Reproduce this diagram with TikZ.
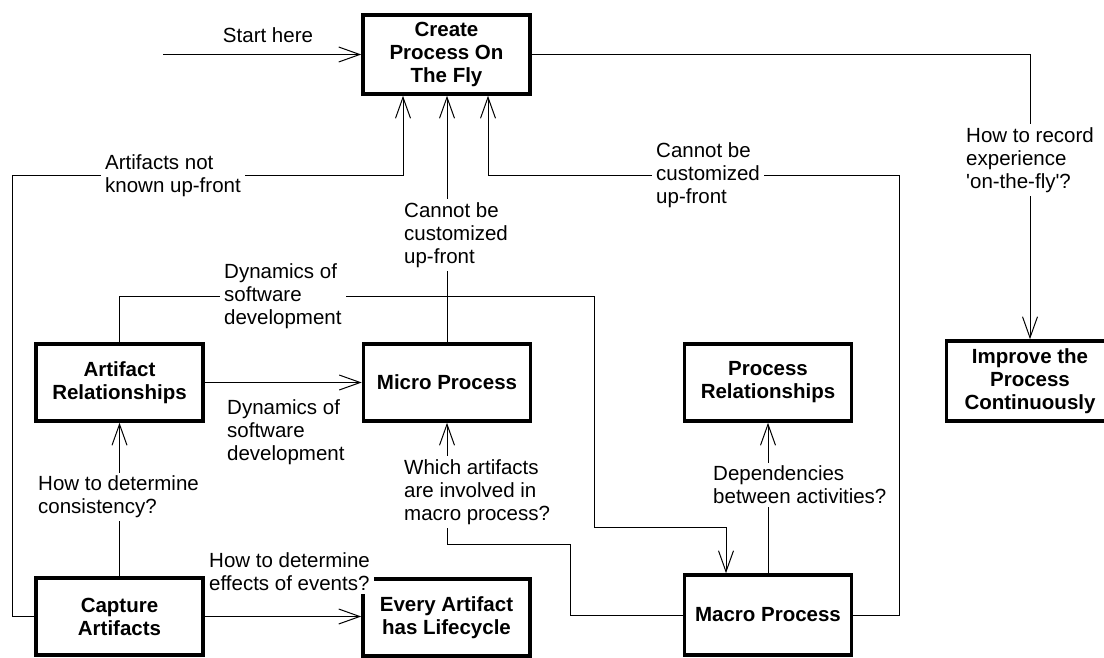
\documentclass[tikz,border=0pt]{standalone}
\usepackage{fontspec}
\setmainfont{Liberation Sans}
\usetikzlibrary{arrows.meta}

\tikzset{
  proc/.style={draw, line width=3.6pt, fill=white, align=center,
    font=\bfseries\fontsize{20.5}{23}\selectfont,
    minimum width=167pt, minimum height=77pt, inner sep=0pt},
  lbl/.style={align=left, anchor=west, fill=white,
    font=\fontsize{20.5}{23}\selectfont, inner xsep=4pt, inner ysep=3pt},
  conn/.style={line width=1pt, -{Straight Barb[length=21pt,width=15pt]}},
}

\begin{document}
\begin{tikzpicture}[x=1pt,y=-1pt]
  \useasboundingbox (0,0) rectangle (1104,658);

  % boxes
  \node[proc, minimum height=79pt] (create) at (446.5,54.5) {Create\\Process On\\The Fly};
  \node[proc] (artrel) at (119.5,382.5) {Artifact\\Relationships};
  \node[proc] (micro) at (447,382.5) {Micro Process};
  \node[proc] (procrel) at (768,382.5) {Process\\Relationships};
  \node[proc, minimum height=80pt] (improve) at (1030,381) {Improve the\\Process\\Continuously};
  \node[proc] (capture) at (119.5,616.5) {Capture\\Artifacts};
  \node[proc] (every) at (446.5,617.5) {Every Artifact\\has Lifecycle};
  \node[proc, minimum height=80pt] (macro) at (768,615) {Macro Process};

  % bends
  \coordinate (start) at (163,54.5);
  \coordinate (lk) at (12,176);
  \coordinate (rk) at (899,176);
  \coordinate (d1) at (594,296);
  \coordinate (d2) at (726,527);
  \coordinate (w1) at (570,544);

  % connectors
  \draw[conn] (start) -- (create.west);
  \draw[conn] (create.east) -| (improve.north);
  \draw[conn] (capture.west) -| (lk) -| ([xshift=-43.5pt]create.south);
  \draw[conn] (micro.north) -- (micro.north |- create.south);
  \draw[conn] (macro.east) -| (rk) -| ([xshift=41.5pt]create.south);
  \draw[conn] (artrel.north) |- (d1) |- (d2) -- (d2 |- macro.north);
  \draw[conn] (artrel.east) -- (micro.west);
  \draw[conn] (capture.north) -- (artrel.south);
  \draw[conn] (capture.east) -- (capture.east -| every.west);
  \draw[conn] (macro.west) -| (w1) -| (micro.south);
  \draw[conn] (macro.north) -- (procrel.south);

  % labels
  \node[font=\fontsize{20.5}{23}\selectfont] (lstart) at (268,35) {Start here};
  \node[lbl] (lrec) at (962,160) {How to record\\experience\\\textquotesingle on-the-fly\textquotesingle ?};
  \node[lbl] (lknown) at (101,176) {Artifacts not\\known up-front};
  \node[lbl] (lcust) at (400,235) {Cannot be\\customized\\up-front};
  \node[lbl] (lcust2) at (652,175) {Cannot be\\customized\\up-front};
  \node[lbl] (ldyn) at (220,296) {Dynamics of\\software\\development};
  \node[lbl] (ldyn2) at (223,432) {Dynamics of\\software\\development};
  \node[lbl] (lcons) at (34,497) {How to determine\\consistency?};
  \node[lbl] (leff) at (205,572) {How to determine\\effects of events?};
  \node[lbl] (lwhich) at (400,492) {Which artifacts\\are involved in\\macro process?};
  \node[lbl] (ldep) at (709,485) {Dependencies\\between activities?};
\end{tikzpicture}
\end{document}
